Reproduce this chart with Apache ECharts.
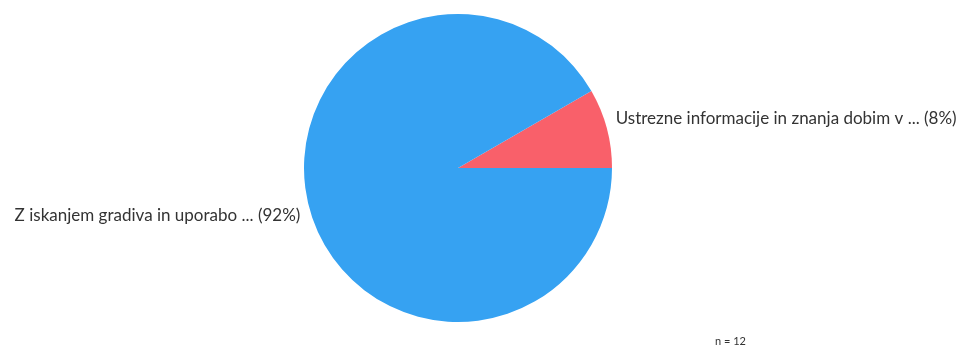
<!DOCTYPE html>
<html>
<head>
<meta charset="utf-8">
<script src="https://cdn.jsdelivr.net/npm/echarts@6/dist/echarts.min.js"></script>
<style>html,body{margin:0;padding:0;background:#fff}#c{width:961px;height:346px}</style>
</head>
<body>
<div id="c"></div>
<script>
const categories = ['Ustrezne informacije in znanja dobim v ...', 'Z iskanjem gradiva in uporabo ...'];
const values = [1, 11];
const percents = ['8%', '92%'];
const colors = ['#f9606a', '#36a2f2'];
const sampleSize = 'n = 12';

const labelShift = [-9, 7];

const chart = echarts.init(document.getElementById('c'));
chart.setOption({
  animation: false,
  title: {
    text: sampleSize,
    left: 710, top: 331,
    textStyle: { fontFamily: 'Lato', fontSize: 11, fontWeight: 'normal', color: '#333' }
  },
  series: [{
    type: 'pie',
    center: [458, 168],
    radius: 154,
    startAngle: 0,
    clockwise: false,
    data: categories.map((c, i) => ({
      name: c, value: values[i],
      itemStyle: { color: colors[i] }
    })),
    label: {
      show: true,
      position: 'outside',
      overflow: 'none',
      formatter: p => p.name + ' (' + percents[p.dataIndex] + ')',
      fontFamily: 'Lato',
      fontSize: 17,
      color: '#333'
    },
    labelLayout: p => ({ dy: labelShift[p.dataIndex] }),
    labelLine: { show: false, length: 2, length2: 2 },
    emphasis: { disabled: true }
  }]
});
</script>
</body>
</html>
